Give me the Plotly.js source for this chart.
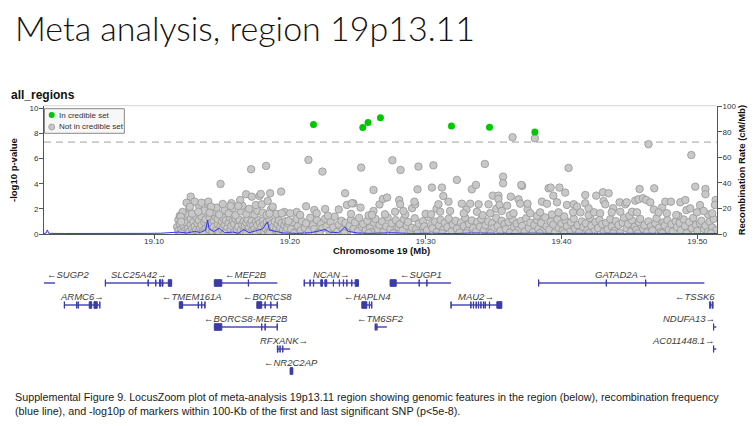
<!DOCTYPE html>
<html><head><meta charset="utf-8">
<script src="https://cdn.plot.ly/plotly-3.0.1.min.js"></script>
<style>html,body{margin:0;padding:0;background:#fff;} #chart{width:754px;height:426px;}</style>
</head><body><div id="chart"></div>
<script>
// ---------------- DATA ----------------
const xRange = [19.019, 19.5145];
const xTickVals = [19.10, 19.20, 19.30, 19.40, 19.50];
const xTickText = ['19.10', '19.20', '19.30', '19.40', '19.50'];
const gwsThreshold = 7.30103; // -log10(5e-8)

// credible-set SNPs
const credPos  = [19.2174, 19.2537, 19.2576, 19.2667, 19.3190, 19.3470, 19.3804];
const credLogP = [8.70, 8.46, 8.86, 9.25, 8.59, 8.49, 8.11];

// not-in-credible-set SNPs: higher signals
const grayPosHigh = [19.364,19.3804,19.4641,19.4956,19.2137,19.2525,19.224,19.1715,19.1825,19.149,19.1936,19.2407,19.2616,19.2755,19.2815,19.2947,19.3057,19.3436,19.4052,19.323,19.357,19.357,19.371,19.3704,19.2685,19.294,19.3046,19.2805,19.2812,19.2468,19.242,19.226,19.218,19.2198,19.2616,19.2604,19.270,19.2923,19.2917,19.2775,19.2836,19.304,19.2076,19.2002,19.312,19.334,19.337,19.3905,19.392,19.3985,19.4027,19.394,19.313,19.3494,19.3536,19.3536,19.3627,19.3684,19.3696,19.375,19.3856,19.3893,19.3967,19.3094,19.3168,19.3266,19.3328,19.339,19.3463,19.3544,19.36,19.3107,19.318,19.328,19.3377,19.3475,19.356,19.3647,19.377,19.3843,19.3978,19.404,19.4575,19.4683,19.4985,19.506,19.506,19.4175,19.4256,19.4305,19.4347,19.431,19.4322,19.4428,19.447,19.448,19.4543,19.4567,19.46,19.4624,19.4654,19.4764,19.4806,19.4875,19.4912,19.4948,19.5135,19.513,19.409,19.4114,19.4175,19.42,19.4085,19.414,19.424,19.4285,19.437,19.4433,19.452,19.4556,19.4715,19.4776,19.4845,19.4998,19.5047,19.511,
 19.127,19.124,19.130,19.135,19.140,19.1265,19.1326,19.142,19.141,19.1197,19.120,19.1634,19.1678,19.172,19.1776,19.1786,19.1855,19.162,19.1565,19.1506,19.1793,19.1874,19.1837,19.194,19.199,19.2456,19.2716];
const grayLogPHigh = [7.69,7.61,7.14,6.28,5.89,5.28,4.96,5.15,5.41,3.98,3.37,3.24,3.50,5.86,5.09,5.36,5.46,5.57,5.25,4.30,4.56,4.03,3.82,3.90,2.78,3.55,3.69,2.70,2.36,2.44,2.31,1.99,1.91,1.65,1.83,1.51,1.57,2.36,2.57,1.77,1.83,1.57,1.51,1.65,3.69,3.55,3.90,3.63,3.69,3.69,3.29,3.05,3.02,3.05,3.05,2.78,2.97,2.76,2.41,2.41,2.57,2.41,2.52,2.36,2.57,2.41,2.41,2.36,2.36,2.31,2.25,1.77,1.83,1.65,1.77,1.65,1.83,1.65,1.65,1.72,1.72,2.31,3.58,3.63,3.76,3.58,3.16,3.10,3.05,3.32,3.24,2.63,2.36,2.52,2.36,2.52,2.65,2.76,2.84,2.70,2.52,2.57,2.57,2.52,2.70,2.04,2.70,2.31,2.36,2.17,2.44,2.04,1.72,1.72,1.72,1.65,1.72,1.77,1.77,1.72,1.72,1.65,1.51,1.72,1.83,1.65,
 2.97,2.49,2.57,2.49,2.57,2.17,1.77,2.17,1.69,1.38,0.98,2.70,3.16,2.97,3.02,3.18,3.24,2.23,2.23,2.39,2.36,2.17,2.62,1.65,1.03,2.44,2.90];

// not-in-credible-set SNPs: dense block 19.117-19.20
const grayPosLeft = [19.117,19.118,19.118,19.119,19.119,19.120,19.121,19.121,19.122,19.123,19.123,19.124,19.125,19.125,19.126,19.127,19.127,19.128,19.129,19.129,19.130,19.131,19.131,19.132,19.133,19.133,19.134,19.135,19.135,19.136,19.137,19.138,19.138,19.139,19.140,19.141,19.141,19.142,19.143,19.144,19.144,19.145,19.146,19.147,19.147,19.148,19.149,19.150,19.150,19.151,19.152,19.153,19.153,19.154,19.155,19.156,19.156,19.157,19.158,19.159,19.159,19.160,19.161,19.162,19.162,19.163,19.164,19.165,19.166,19.166,19.167,19.168,19.169,19.169,19.170,19.171,19.172,19.172,19.173,19.174,19.175,19.175,19.176,19.177,19.178,19.178,19.179,19.180,19.181,19.181,19.182,19.183,19.184,19.184,19.185,19.186,19.187,19.188,19.188,19.189,19.190,19.191,19.192,19.192,19.193,19.194,19.195,19.196,19.197,19.197,19.198,19.199,
 19.121,19.126,19.128,19.133,19.137,19.139,19.143,19.146,19.148,19.152,19.155,19.158,19.160,19.164,19.168,19.170,19.174,19.176,19.180,19.183,19.186,19.190,19.196,19.157,19.165,19.175,19.185];
const grayLogPLeft = [0.55,1.12,0.25,1.45,0.80,0.35,1.05,0.10,0.62,1.30,0.28,0.90,0.45,1.55,0.18,0.75,1.20,0.40,0.95,0.12,0.60,1.35,0.30,0.85,0.20,1.10,0.50,0.70,1.40,0.25,0.95,0.42,1.15,0.15,0.68,1.25,0.35,0.88,0.22,1.05,0.55,1.38,0.30,0.78,1.18,0.10,0.60,1.00,0.38,1.30,0.72,0.20,1.08,0.48,0.90,1.28,0.26,0.65,1.02,0.15,0.80,1.20,0.40,0.95,0.58,1.12,0.30,0.75,1.00,0.18,0.62,0.92,0.35,1.15,0.50,0.82,0.22,1.05,0.68,0.40,0.98,0.12,0.72,1.10,0.30,0.88,0.55,1.02,0.20,0.75,0.45,0.95,0.15,0.65,1.12,0.38,0.85,0.25,0.58,1.00,0.42,0.78,0.18,1.08,0.52,0.88,0.30,0.70,1.02,0.12,0.48,0.82,
 1.75,2.05,1.62,2.30,1.85,2.45,1.72,2.10,1.55,1.90,1.65,2.05,1.50,1.80,1.60,2.00,1.55,1.85,1.70,1.52,1.95,1.60,1.75,2.45,2.25,2.30,1.62];

// not-in-credible-set SNPs: low band 19.20-19.515
const grayPosRight = [19.201,19.202,19.204,19.205,19.206,19.208,19.209,19.211,19.212,19.214,19.215,19.217,19.218,19.220,19.221,19.223,19.224,19.226,19.227,19.229,19.230,19.232,19.233,19.235,19.236,19.238,19.239,19.241,19.242,19.244,19.245,19.247,19.248,19.250,19.251,19.253,19.254,19.256,19.257,19.259,19.260,19.262,19.263,19.265,19.266,19.268,19.269,19.271,19.272,19.274,19.275,19.277,19.278,19.280,19.281,19.283,19.284,19.286,19.287,19.289,19.290,19.292,19.293,19.295,19.296,19.298,19.299,19.301,19.302,19.304,19.305,19.307,19.308,19.310,19.311,19.313,19.314,19.316,19.317,19.319,19.320,19.322,19.323,19.325,19.326,19.328,19.329,19.331,19.332,19.334,19.335,19.337,19.338,19.340,19.341,19.343,19.344,19.346,19.347,19.349,19.350,19.352,19.353,19.355,19.356,19.358,19.359,19.361,19.362,19.364,19.365,19.367,19.368,19.370,19.371,19.373,19.374,19.376,19.377,19.379,19.380,19.382,19.383,19.385,19.386,19.388,19.389,19.391,19.392,19.394,19.395,19.397,19.398,19.400,19.401,19.403,19.404,19.406,19.407,19.409,19.410,19.412,19.413,19.415,19.416,19.418,19.419,19.421,19.422,19.424,19.425,19.427,19.428,19.430,19.431,19.433,19.434,19.436,19.437,19.439,19.440,19.442,19.443,19.445,19.446,19.448,19.449,19.451,19.452,19.454,19.455,19.457,19.458,19.460,19.461,19.463,19.464,19.466,19.467,19.469,19.470,19.472,19.473,19.475,19.476,19.478,19.479,19.481,19.482,19.484,19.485,19.487,19.488,19.490,19.491,19.493,19.494,19.496,19.497,19.499,19.500,19.502,19.503,19.505,19.506,19.508,19.509,19.511,19.512,19.514,
 19.205,19.212,19.228,19.236,19.245,19.252,19.258,19.266,19.285,19.290,19.300,19.308,19.330,19.342,19.352,19.362,19.375,19.382,19.393,19.402,19.420,19.438,19.450,19.468,19.474,19.486,19.492,19.502,19.508,
 19.120,19.136,19.152,19.168,19.185,19.203,19.222,19.240,19.258,19.276,19.294,19.312,19.330,19.348,19.366,19.384,19.402,19.420,19.438,19.456,19.474,19.492,19.510];
const grayLogPRight = [0.40,0.95,0.15,1.20,0.62,0.30,1.02,0.50,0.85,0.20,1.30,0.70,0.38,1.10,0.12,0.80,0.45,1.22,0.60,0.25,0.98,0.52,1.38,0.18,0.75,1.05,0.35,0.88,0.10,0.65,1.15,0.42,0.92,0.22,1.28,0.58,0.80,0.30,1.05,0.48,0.15,0.90,1.20,0.35,0.72,1.00,0.20,0.60,1.32,0.40,0.85,0.12,1.10,0.55,0.78,0.28,1.18,0.65,0.95,0.18,0.50,1.25,0.38,0.82,0.10,1.02,0.60,0.30,1.35,0.72,0.45,0.98,0.15,0.68,1.12,0.35,0.88,0.55,1.22,0.20,0.75,1.05,0.42,0.12,0.92,0.62,1.30,0.28,0.80,1.08,0.48,0.18,0.95,0.58,1.20,0.32,0.70,1.00,0.15,0.85,0.45,1.28,0.62,0.25,1.05,0.78,0.38,0.95,0.12,1.15,0.55,0.82,0.30,1.02,0.65,0.20,1.25,0.48,0.90,0.15,0.72,1.10,0.40,0.88,0.22,1.32,0.60,0.35,0.98,0.75,0.10,1.15,0.50,0.82,0.28,1.05,0.62,0.18,0.92,1.22,0.42,0.70,0.12,1.00,0.55,0.85,0.30,1.28,0.65,0.20,0.95,0.48,1.12,0.78,0.15,0.88,0.38,1.18,0.60,0.25,1.02,0.72,0.10,0.90,1.30,0.45,0.80,0.18,1.08,0.58,0.32,0.95,1.20,0.40,0.70,0.12,1.00,0.62,0.28,0.85,1.25,0.50,0.15,0.92,0.68,1.10,0.35,0.78,0.20,1.02,0.55,0.88,0.30,1.15,0.62,0.10,0.95,0.45,1.28,0.72,0.25,0.85,1.05,0.40,0.65,0.18,0.98,0.52,1.20,0.30,
 1.75,2.20,1.45,1.95,1.60,2.10,1.48,2.35,1.55,2.05,1.60,2.00,1.95,1.50,2.00,1.50,1.95,1.45,1.55,1.40,1.50,2.05,1.45,1.95,2.10,1.45,1.90,2.30,1.55,
 0.05,0.05,0.05,0.06,0.05,0.06,0.05,0.05,0.07,0.05,0.06,0.05,0.06,0.05,0.06,0.05,0.06,0.05,0.06,0.05,0.06,0.05,0.06];

// recombination rate (cM/Mb)
const recombPos  = [19.019,19.0205,19.0215,19.0225,19.035,19.050,19.065,19.080,19.095,19.105,19.112,19.118,19.124,19.130,19.134,19.138,19.1395,19.1405,19.144,19.148,19.152,19.158,19.162,19.166,19.170,19.176,19.180,19.1835,19.185,19.190,19.195,19.205,19.215,19.222,19.226,19.229,19.236,19.2405,19.243,19.250,19.260,19.275,19.290,19.305,19.320,19.335,19.350,19.365,19.380,19.395,19.410,19.425,19.440,19.455,19.470,19.485,19.500,19.5145];
const recombRate = [0.5,0.6,3.2,0.5,0.4,0.3,0.3,0.4,0.5,0.6,1.0,1.5,0.8,2.0,1.2,3.0,11.0,4.0,2.0,4.5,1.0,1.5,0.5,3.5,1.0,2.5,4.0,9.5,3.0,2.0,0.8,0.5,1.0,2.5,3.5,1.5,1.0,5.5,2.0,0.8,0.5,1.0,0.4,0.6,0.3,0.8,0.5,0.4,0.7,0.3,0.5,0.6,0.4,0.8,0.5,0.3,0.6,0.4];

// genes
const geneNames  = ['SUGP2','SLC25A42','MEF2B','NCAN','SUGP1','GATAD2A','ARMC6','TMEM161A','BORCS8','HAPLN4','MAU2','TSSK6','BORCS8-MEF2B','TM6SF2','NDUFA13','RFXANK','AC011448.1','NR2C2AP'];
const geneStrand = ['-','+','-','+','-','+','+','-','-','-','+','-','-','-','+','+','+','-'];
const geneRow    = [1,1,1,1,1,1,2,2,2,2,2,2,3,3,3,4,4,5];
const geneStart  = [19.0190,19.0641,19.1444,19.2105,19.2738,19.3831,19.0339,19.1186,19.1757,19.2530,19.3186,19.5091,19.1444,19.2628,19.5119,19.1908,19.5119,19.2002];
const geneEnd    = [19.0271,19.1130,19.1908,19.2505,19.3186,19.5052,19.0602,19.1376,19.1908,19.2604,19.3561,19.5116,19.1908,19.2714,19.5140,19.2002,19.5140,19.2022];
const geneExons  = [
  [],
  [[19.0641,19.0643],[19.0956,19.0958],[19.1012,19.1014],[19.1040,19.1050],[19.1060,19.1066],[19.1105,19.1130]],
  [[19.1444,19.1499],[19.1694,19.1696]],
  [[19.2105,19.2107],[19.2148,19.2150],[19.2173,19.2176],[19.2228,19.2240],[19.2258,19.2272],[19.2320,19.2322],[19.2364,19.2366],[19.2394,19.2396],[19.2419,19.2421],[19.2455,19.2457],[19.2481,19.2505]],
  [[19.2738,19.2783],[19.2951,19.2953],[19.3008,19.3010]],
  [[19.3831,19.3833],[19.4329,19.4331],[19.4619,19.4621]],
  [[19.0339,19.0341],[19.0430,19.0432],[19.0441,19.0443],[19.0523,19.0541],[19.0558,19.0582],[19.0600,19.0602]],
  [[19.1186,19.1211],[19.1325,19.1327],[19.1350,19.1352],[19.1374,19.1376]],
  [[19.1757,19.1793],[19.1817,19.1819],[19.1859,19.1861],[19.1906,19.1908]],
  [[19.2530,19.2567],[19.2585,19.2587],[19.2602,19.2604]],
  [[19.3186,19.3188],[19.3332,19.3334],[19.3351,19.3353],[19.3371,19.3373],[19.3388,19.3390],[19.3406,19.3408],[19.3425,19.3427],[19.3437,19.3439],[19.3469,19.3471],[19.3524,19.3561]],
  [[19.5091,19.5098],[19.5110,19.5116]],
  [[19.1444,19.1499],[19.1792,19.1794],[19.1817,19.1819],[19.1906,19.1908]],
  [[19.2628,19.2630],[19.2640,19.2642]],
  [[19.5119,19.5121]],
  [[19.1908,19.1913],[19.1927,19.1929],[19.1947,19.1949]],
  [[19.5119,19.5121]],
  [[19.2002,19.2022]]
];

const captionLines = [
  'Supplemental Figure 9. LocusZoom plot of meta-analysis 19p13.11 region showing genomic features in the region (below), recombination frequency',
  '(blue line), and -log10p of markers within 100-Kb of the first and last significant SNP (p<5e-8).'
];

// ---------------- LAYOUT HELPERS ----------------
const W = 754, H = 426, PL = 44, PR = 716.7;
const px2x = px => (px - PL) / (PR - PL);
const py2y = py => (H - py) / H;
const mainTop = 105.7, mainBot = 234;
const geneTop = 265, geneBot = 378;
const rowPx = 22, row0 = 261; // bar pixel y = row0 + rowPx*row
const y3Range = [(geneBot - row0) / rowPx, (geneTop - row0) / rowPx];
const ctx = document.createElement('canvas').getContext('2d');
const esc = s => s.replace(/&/g, '&amp;').replace(/</g, '&lt;').replace(/>/g, '&gt;');

const grayPos = grayPosLeft.concat(grayPosRight, grayPosHigh);
const grayLogP = grayLogPLeft.concat(grayLogPRight, grayLogPHigh);

const traces = [];
traces.push({
  x: grayPos, y: grayLogP, type: 'scatter', mode: 'markers', xaxis: 'x', yaxis: 'y',
  marker: {size: 7.5, color: '#c8c8c8', line: {color: '#969696', width: 0.8}},
  hoverinfo: 'skip', showlegend: false
});
traces.push({
  x: credPos, y: credLogP, type: 'scatter', mode: 'markers', xaxis: 'x', yaxis: 'y',
  marker: {size: 7, color: '#00c800', line: {width: 0}},
  hoverinfo: 'skip', showlegend: false
});
traces.push({
  x: recombPos, y: recombRate, type: 'scatter', mode: 'lines', xaxis: 'x', yaxis: 'y2',
  line: {color: '#3535f0', width: 1}, hoverinfo: 'skip', showlegend: false
});

// gene spans as one line trace
const gx = [], gy = [];
geneNames.forEach((g, i) => { gx.push(geneStart[i], geneEnd[i], null); gy.push(geneRow[i], geneRow[i], null); });
traces.push({x: gx, y: gy, type: 'scatter', mode: 'lines', xaxis: 'x', yaxis: 'y3',
  line: {color: '#4d4db8', width: 1.5}, hoverinfo: 'skip', showlegend: false});

const shapes = [];
shapes.push({type: 'line', xref: 'x domain', yref: 'y', x0: 0, x1: 1, y0: gwsThreshold, y1: gwsThreshold,
  line: {color: '#c9c9c9', width: 1.6, dash: '7px,5px'}, layer: 'below'});
shapes.push({type: 'line', xref: 'x domain', yref: 'y domain', x0: 0, x1: 1, y0: 1, y1: 1,
  line: {color: '#d6d6d6', width: 1}});
geneExons.forEach((ex, i) => {
  ex.forEach(e => {
    shapes.push({type: 'rect', xref: 'x', yref: 'y3', x0: e[0], x1: e[1],
      y0: geneRow[i] - 0.15, y1: geneRow[i] + 0.15,
      fillcolor: '#3a3aa8', line: {color: '#3a3aa8', width: 1}});
  });
});
shapes.push({type: 'rect', xref: 'paper', yref: 'paper', x0: px2x(44.5), x1: px2x(124.3), y0: py2y(133.3), y1: py2y(108.7),
  fillcolor: '#f7f7f7', line: {color: '#8a8a8a', width: 1}});
shapes.push({type: 'circle', xref: 'paper', yref: 'paper', xsizemode: 'pixel', ysizemode: 'pixel',
  xanchor: px2x(51.7), yanchor: py2y(115), x0: -3, x1: 3, y0: -3, y1: 3, fillcolor: '#00c800', line: {width: 0}});
shapes.push({type: 'circle', xref: 'paper', yref: 'paper', xsizemode: 'pixel', ysizemode: 'pixel',
  xanchor: px2x(51.7), yanchor: py2y(127), x0: -3, x1: 3, y0: -3, y1: 3, fillcolor: '#c8c8c8', line: {color: '#9a9a9a', width: 0.8}});

const SANS = 'Liberation Sans, Arial, sans-serif';
const annotations = [];
annotations.push({xref: 'paper', yref: 'paper', x: px2x(13), y: py2y(28), xanchor: 'left', yanchor: 'middle', showarrow: false,
  text: 'Meta analysis, region 19p13.11', font: {family: 'Lato, Open Sans, sans-serif', size: 34, weight: 300, color: '#111'}});
annotations.push({xref: 'paper', yref: 'paper', x: px2x(9.5), y: py2y(94.5), xanchor: 'left', yanchor: 'middle', showarrow: false,
  text: '<b>all_regions</b>', font: {family: SANS, size: 12, color: '#111'}});
annotations.push({xref: 'paper', yref: 'paper', x: px2x(57), y: py2y(115), xanchor: 'left', yanchor: 'middle', showarrow: false,
  text: 'In credible set', font: {family: SANS, size: 8, color: '#333'}});
annotations.push({xref: 'paper', yref: 'paper', x: px2x(57), y: py2y(127), xanchor: 'left', yanchor: 'middle', showarrow: false,
  text: 'Not in credible set', font: {family: SANS, size: 8, color: '#333'}});
annotations.push({xref: 'paper', yref: 'paper', x: px2x(381), y: py2y(251), xanchor: 'center', yanchor: 'middle', showarrow: false,
  text: '<b>Chromosome 19 (Mb)</b>', font: {family: SANS, size: 9.5, color: '#111'}});
annotations.push({xref: 'paper', yref: 'paper', x: px2x(13), y: py2y(170), xanchor: 'center', yanchor: 'middle', showarrow: false, textangle: -90,
  text: '<b>-log10 p-value</b>', font: {family: SANS, size: 9.5, color: '#111'}});
annotations.push({xref: 'paper', yref: 'paper', x: px2x(741), y: py2y(170), xanchor: 'center', yanchor: 'middle', showarrow: false, textangle: -90,
  text: '<b>Recombination Rate (cM/Mb)</b>', font: {family: SANS, size: 9.5, color: '#111'}});

// caption: fit line 1 to the reference width (14px .. 718px)
ctx.font = '12px "Liberation Sans"';
const capSize = Math.min(12.5, 12 * (718 - 14) / ctx.measureText(captionLines[0]).width);
captionLines.forEach((t, k) => {
  annotations.push({xref: 'paper', yref: 'paper', x: px2x(13), y: py2y(397 + 14 * k), xanchor: 'left', yanchor: 'middle', showarrow: false,
    text: esc(t), font: {family: SANS, size: capSize, color: '#1a1a1a'}});
});

// gene labels, kept inside the x range
ctx.font = 'italic 9.5px "Liberation Sans", Arial, sans-serif';
const mbPerPx = (xRange[1] - xRange[0]) / (PR - PL);
geneNames.forEach((g, i) => {
  const txt = geneStrand[i] === '+' ? g + '\u2192' : '\u2190' + g;
  const wMb = ctx.measureText(txt).width * mbPerPx;
  let cx = (geneStart[i] + geneEnd[i]) / 2, anchor = 'center';
  if (cx - wMb / 2 < xRange[0]) { cx = xRange[0] + 0.0004; anchor = 'left'; }
  else if (cx + wMb / 2 > xRange[1]) { cx = xRange[1]; anchor = 'right'; }
  annotations.push({xref: 'x', yref: 'y3', x: cx, y: geneRow[i] - 0.37, xanchor: anchor, yanchor: 'middle', showarrow: false,
    text: txt, font: {family: SANS, size: 9.5, style: 'italic', color: '#3c3c3c'}});
});

const axisCommon = {showgrid: false, zeroline: false, showline: true, linecolor: '#555', linewidth: 1,
  ticks: 'outside', ticklen: 4, tickcolor: '#555', tickfont: {family: SANS, size: 8, color: '#333'}, automargin: false, fixedrange: true};

const layout = {
  width: W, height: H, margin: {l: PL, r: W - PR, t: 0, b: 0, pad: 0, autoexpand: false},
  paper_bgcolor: '#fff', plot_bgcolor: 'rgba(0,0,0,0)', showlegend: false,
  xaxis: Object.assign({}, axisCommon, {domain: [0, 1], range: xRange, anchor: 'y', tickvals: xTickVals, ticktext: xTickText, ticklabelstandoff: -5}),
  yaxis: Object.assign({}, axisCommon, {domain: [py2y(mainBot), py2y(mainTop)], range: [0, 10.2], anchor: 'x', tickvals: [0, 2, 4, 6, 8, 10], ticklabelstandoff: -1}),
  yaxis2: Object.assign({}, axisCommon, {overlaying: 'y', side: 'right', anchor: 'x', range: [0, 100.5], tickvals: [0, 20, 40, 60, 80, 100], ticklabelstandoff: -1}),
  yaxis3: {domain: [py2y(geneBot), py2y(geneTop)], range: y3Range, anchor: 'x', visible: false, fixedrange: true, showgrid: false, zeroline: false},
  shapes: shapes, annotations: annotations
};

Plotly.newPlot('chart', traces, layout, {displayModeBar: false, staticPlot: true});
</script></body></html>
